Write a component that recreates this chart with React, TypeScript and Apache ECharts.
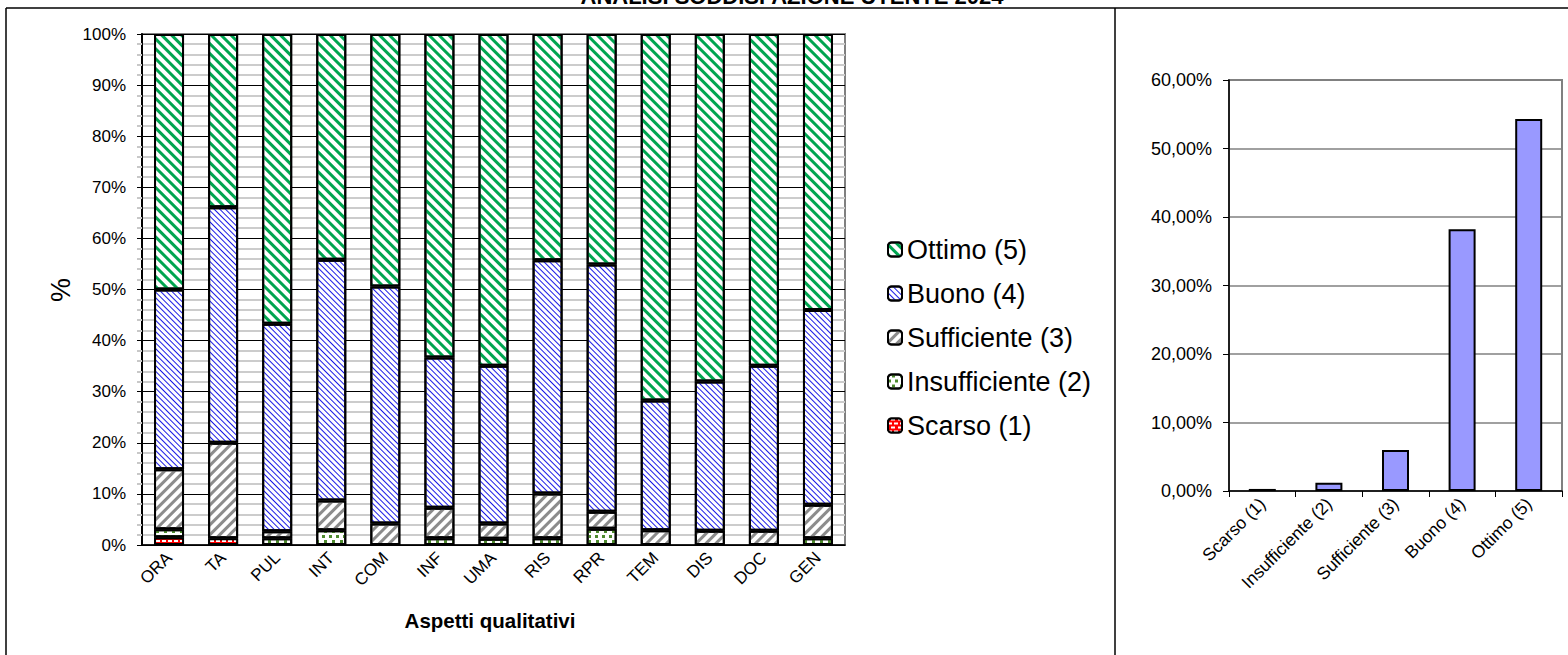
import React, { useEffect, useRef } from "react";
import * as echarts from "echarts";

const categories = ["ORA", "TA", "PUL", "INT", "COM", "INF", "UMA", "RIS", "RPR", "TEM", "DIS", "DOC", "GEN"];
const scarso = [1.5, 1.3, 0, 0, 0, 0, 0, 0, 0, 0, 0, 0, 0];
const insufficiente = [1.6, 0, 1.3, 2.9, 0, 1.3, 1.2, 1.3, 3.2, 0, 0, 0, 1.3];
const sufficiente = [11.7, 18.7, 1.4, 5.8, 4.2, 6.0, 3.0, 8.8, 3.3, 2.9, 2.8, 2.8, 6.6];
const buono = [35.2, 46.1, 40.6, 47.1, 46.4, 29.4, 30.9, 45.6, 48.4, 25.4, 29.2, 32.3, 38.1];
const ottimo = [50.0, 33.9, 56.7, 44.2, 49.4, 63.3, 64.9, 44.3, 45.1, 71.7, 68.0, 64.9, 54.0];

const levels = ["Scarso (1)", "Insufficiente (2)", "Sufficiente (3)", "Buono (4)", "Ottimo (5)"];
const overall = [0.3, 1.2, 6.0, 38.2, 54.3];

const leftTicks = [0, 10, 20, 30, 40, 50, 60, 70, 80, 90, 100];
const rightTicks = [0, 10, 20, 30, 40, 50, 60];

const FONT = "'Liberation Sans', Arial, sans-serif";
const TITLE = "ANALISI SODDISFAZIONE UTENTE 2024";

export default function App() {
  const ref = useRef<HTMLDivElement>(null);
  useEffect(() => {
    if (!ref.current) return;
    const chart = echarts.init(ref.current, null, { renderer: "svg" });
    const border = { borderColor: "#000", borderWidth: 2 };
    const mk = (name: string, data: number[], color: string, decal: any) => ({
      name,
      type: "bar",
      stack: "tot",
      xAxisIndex: 0,
      yAxisIndex: 0,
      barWidth: 30,
      data: data.map((v) => (v === 0 ? null : v)),
      itemStyle: { color, ...border, decal },
    });
    const option: any = {
      animation: false,
      textStyle: { fontFamily: FONT, color: "#000" },
      grid: [
        { left: 142, top: 34, width: 703, height: 511, show: true, borderColor: "#808080", borderWidth: 2 },
        { left: 1229, top: 80, width: 333, height: 411, show: true, borderColor: "#808080", borderWidth: 2 },
      ],
      legend: {
        orient: "vertical",
        left: 882,
        top: 231,
        itemWidth: 14,
        itemHeight: 14,
        itemGap: 17,
        data: ["Ottimo (5)", "Buono (4)", "Sufficiente (3)", "Insufficiente (2)", "Scarso (1)"],
        textStyle: { fontSize: 27, fontFamily: FONT, color: "#000" },
      },
      xAxis: [
        {
          type: "category",
          gridIndex: 0,
          data: categories,
          axisLine: { lineStyle: { color: "#000", width: 1.5 } },
          axisTick: { show: false },
          axisLabel: { rotate: 45, fontSize: 17, color: "#000", margin: 10, interval: 0, fontFamily: FONT },
        },
        {
          type: "category",
          gridIndex: 1,
          data: levels,
          axisLine: { lineStyle: { color: "#000", width: 1.5 } },
          axisTick: { show: true, length: 6, lineStyle: { color: "#000" } },
          axisLabel: { rotate: 45, fontSize: 17.5, color: "#000", margin: 10, interval: 0, fontFamily: FONT },
        },
      ],
      yAxis: [
        {
          type: "value",
          gridIndex: 0,
          min: leftTicks[0],
          max: leftTicks[leftTicks.length - 1],
          interval: 10,
          axisLine: { show: true, lineStyle: { color: "#000", width: 2 } },
          axisTick: { show: true, length: 5, lineStyle: { color: "#000" } },
          minorTick: { show: true, splitNumber: 5, length: 5, lineStyle: { color: "#c8c8c8", width: 2 } },
          splitLine: { show: true, lineStyle: { color: "#000", width: 1 } },
          minorSplitLine: { show: true, lineStyle: { color: "#cccccc", width: 2 } },
          axisLabel: { formatter: (v: number) => `${v}%`, fontSize: 17, color: "#000", margin: 16, fontFamily: FONT },
        },
        {
          type: "value",
          gridIndex: 1,
          min: rightTicks[0],
          max: rightTicks[rightTicks.length - 1],
          interval: 10,
          axisLine: { show: true, lineStyle: { color: "#000", width: 1.5 } },
          axisTick: { show: true, length: 6, lineStyle: { color: "#000" } },
          splitLine: { show: true, lineStyle: { color: "#808080", width: 1.5 } },
          axisLabel: {
            formatter: (v: number) => `${v.toFixed(2).replace(".", ",")}%`,
            fontSize: 18,
            color: "#000",
            margin: 17,
            fontFamily: FONT,
          },
        },
      ],
      series: [
        mk("Scarso (1)", scarso, "#FF0000", {
          color: "#ffffff",
          symbol: "rect",
          dashArrayX: [[4, 2], [0, 3, 4, 0]],
          dashArrayY: [1.5, 2],
        }),
        mk("Insufficiente (2)", insufficiente, "#ffffff", {
          color: "#4E8A2E",
          symbol: "rect",
          dashArrayX: [[3, 4], [0, 3.5, 3, 0.5]],
          dashArrayY: [3, 2],
        }),
        mk("Sufficiente (3)", sufficiente, "#ffffff", {
          color: "#8C8C8C",
          symbol: "rect",
          dashArrayX: [1, 0],
          dashArrayY: [3, 4],
          rotation: -Math.PI / 4,
        }),
        mk("Buono (4)", buono, "#ffffff", {
          color: "#1A1AE6",
          symbol: "rect",
          dashArrayX: [1, 0],
          dashArrayY: [1, 2.2],
          rotation: Math.PI / 4,
        }),
        mk("Ottimo (5)", ottimo, "#ffffff", {
          color: "#00A550",
          symbol: "rect",
          dashArrayX: [1, 0],
          dashArrayY: [3, 3.5],
          rotation: Math.PI / 4,
        }),
        {
          name: "Totale",
          type: "bar",
          xAxisIndex: 1,
          yAxisIndex: 1,
          barWidth: 27,
          data: overall,
          itemStyle: { color: "#9999FF", borderColor: "#000", borderWidth: 2 },
        },
      ],
      graphic: [
        {
          type: "text",
          x: 792,
          y: 7,
          style: { text: TITLE, font: `bold 22px ${FONT}`, textAlign: "center", textVerticalAlign: "bottom", fill: "#000" },
        },
        { type: "line", shape: { x1: 6, y1: 8, x2: 1568, y2: 8 }, style: { stroke: "#000", lineWidth: 1.5 } },
        { type: "line", shape: { x1: 6, y1: 8, x2: 6, y2: 655 }, style: { stroke: "#000", lineWidth: 1.5 } },
        { type: "line", shape: { x1: 1115, y1: 8, x2: 1115, y2: 655 }, style: { stroke: "#000", lineWidth: 1.5 } },
        {
          type: "text",
          x: 61,
          y: 290,
          rotation: Math.PI / 2,
          style: { text: "%", font: `27px ${FONT}`, textAlign: "center", textVerticalAlign: "middle", fill: "#000" },
        },
        {
          type: "text",
          x: 490,
          y: 620,
          style: { text: "Aspetti qualitativi", font: `bold 20.5px ${FONT}`, textAlign: "center", textVerticalAlign: "middle", fill: "#000" },
        },
      ],
    };
    chart.setOption(option);
    return () => chart.dispose();
  }, []);
  return <div ref={ref} style={{ position: "absolute", left: 0, top: 0, width: 1568, height: 655, background: "#fff" }} />;
}
